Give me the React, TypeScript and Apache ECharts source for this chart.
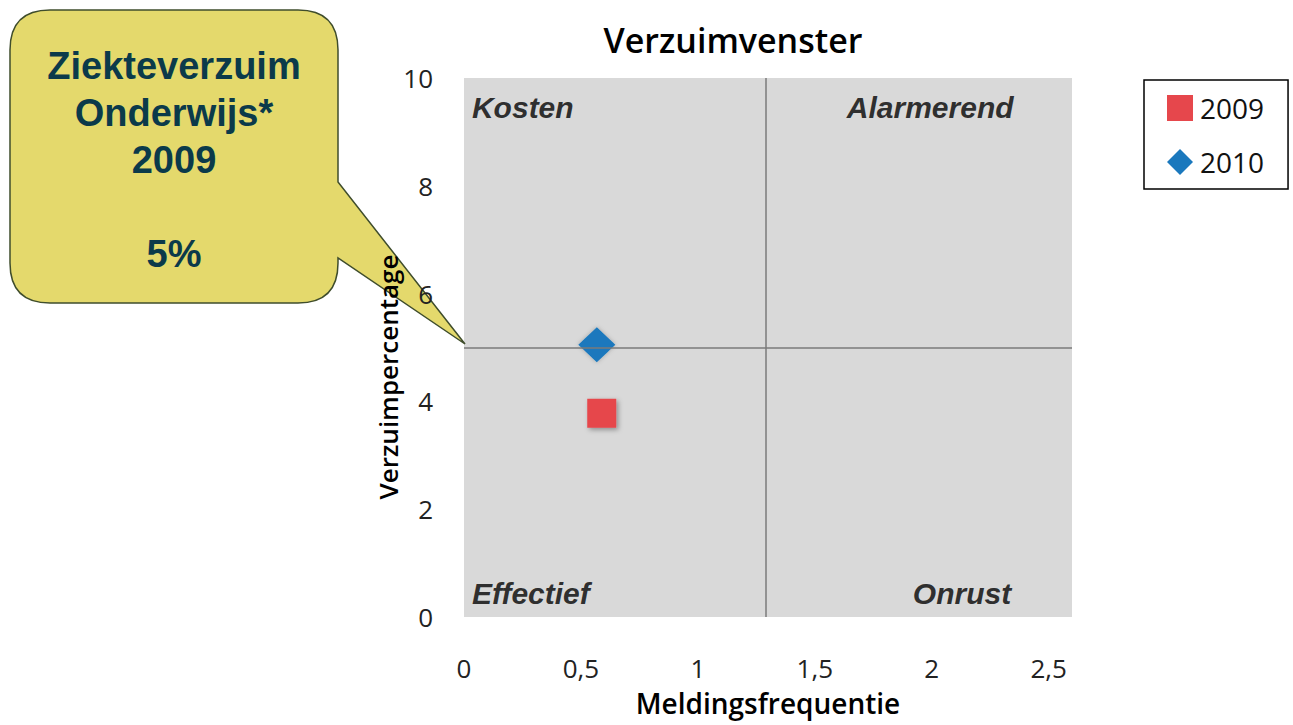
import React, { useEffect, useRef } from "react";
import * as echarts from "echarts";

const title = "Verzuimvenster";
const xName = "Meldingsfrequentie";
const yName = "Verzuimpercentage";
const seriesNames = ["2009", "2010"];
const data2009 = [[0.589, 3.78]];
const data2010 = [[0.568, 5.05]];
const quadrantSplitX = 1.29;
const quadrantSplitY = 5;
const quadrantLabels = [
  { name: "Kosten", value: [0.034, 9.45], align: "left" },
  { name: "Alarmerend", value: [2.35, 9.45], align: "right" },
  { name: "Effectief", value: [0.034, 0.43], align: "left" },
  { name: "Onrust", value: [2.34, 0.43], align: "right" },
];
const calloutLines = ["Ziekteverzuim", "Onderwijs*", "2009", "", "5%"];

const calloutPath =
  "M50,10 L298,10 Q338,10 338,50 L338,182 L465,344 L338,258 L338,263 Q338,303 298,303 L50,303 Q10,303 10,263 L10,50 Q10,10 50,10 Z";

let registered = false;

export default function App() {
  const ref = useRef<HTMLDivElement>(null);
  useEffect(() => {
    document.body.style.margin = "0";
    if (!registered) {
      echarts.graphic.registerShape("callout", echarts.graphic.extendPath(calloutPath, {}));
      registered = true;
    }
    const chart = echarts.init(ref.current!, null, { renderer: "svg" });
    const font = "'Open Sans', sans-serif";
    chart.setOption({
      animation: false,
      backgroundColor: "#ffffff",
      title: {
        text: title,
        left: 728,
        top: 18,
        textAlign: "center",
        textStyle: { fontFamily: font, fontSize: 34, fontWeight: 600, color: "#000" },
      },
      legend: {
        data: seriesNames,
        orient: "vertical",
        left: 1144,
        top: 80,
        borderColor: "#000",
        borderWidth: 1.5,
        padding: [14, 24, 13, 23],
        itemWidth: 26,
        itemHeight: 26,
        itemGap: 26,
        textStyle: { fontFamily: font, fontSize: 28, color: "#111", padding: [0, 0, 0, 2] },
      },
      grid: {
        left: 464,
        right: 221,
        top: 78,
        bottom: 108,
        show: true,
        backgroundColor: "#d9d9d9",
        borderWidth: 0,
      },
      xAxis: {
        type: "value",
        min: 0,
        max: 2.6,
        interval: 0.5,
        name: xName,
        nameLocation: "middle",
        nameGap: 72,
        nameTextStyle: { fontFamily: font, fontSize: 28, fontWeight: 600, color: "#000" },
        axisLine: { show: false },
        axisTick: { show: false },
        splitLine: { show: false },
        axisLabel: {
          margin: 38,
          fontFamily: font,
          fontSize: 26,
          color: "#222",
          showMaxLabel: false,
          formatter: (v: number) => (v > 2.55 ? "" : String(v).replace(".", ",")),
        },
      },
      yAxis: {
        type: "value",
        min: 0,
        max: 10,
        interval: 2,
        z: 5,
        axisLine: { show: false },
        axisTick: { show: false },
        splitLine: { show: false },
        axisLabel: { margin: 31, fontFamily: font, fontSize: 26, color: "#222" },
      },
      graphic: [
        {
          type: "callout",
          x: 0,
          y: 0,
          z: 1,
          style: { fill: "#e4d96c", stroke: "#3f4d2c", lineWidth: 1.5 },
        },
        {
          type: "text",
          x: 174,
          y: 42,
          z: 11,
          style: {
            text: calloutLines.join("\n"),
            fill: "#0b3a4a",
            font: "bold 38px 'Liberation Sans', Arial, sans-serif",
            lineHeight: 47,
            align: "center",
            verticalAlign: "top",
          },
        },
        {
          type: "text",
          x: 388,
          y: 377,
          rotation: Math.PI / 2,
          z: 12,
          style: {
            text: yName,
            fill: "#000",
            font: "600 26px 'Open Sans', sans-serif",
            align: "center",
            verticalAlign: "middle",
          },
        },
      ],
      series: [
        {
          name: "quadrants",
          type: "scatter",
          symbolSize: 0,
          silent: true,
          data: quadrantLabels.map((q) => ({
            name: q.name,
            value: q.value,
            label: {
              show: true,
              position: "inside",
              align: q.align,
              verticalAlign: "middle",
              formatter: "{b}",
              fontFamily: "'Liberation Sans', Arial, sans-serif",
              fontStyle: "italic",
              fontWeight: "bold",
              fontSize: 30,
              color: "#000",
            },
          })),
          markLine: {
            silent: true,
            symbol: "none",
            label: { show: false },
            lineStyle: { color: "#7a7a7a", width: 1.5, type: "solid" },
            data: [{ xAxis: quadrantSplitX }, { yAxis: quadrantSplitY }],
          },
        },
        {
          name: seriesNames[0],
          type: "scatter",
          symbol: "rect",
          symbolSize: 29,
          data: data2009,
          itemStyle: {
            opacity: 1,
            color: "#e6474c",
            shadowColor: "rgba(0,0,0,0.35)",
            shadowBlur: 5,
            shadowOffsetX: 2,
            shadowOffsetY: 2,
          },
        },
        {
          name: seriesNames[1],
          type: "scatter",
          symbol: "diamond",
          symbolSize: [37, 35],
          data: data2010,
          itemStyle: {
            opacity: 1,
            color: "#1a78bd",
            shadowColor: "rgba(0,0,0,0.25)",
            shadowBlur: 4,
          },
        },
      ],
    });
    return () => chart.dispose();
  }, []);
  return <div ref={ref} style={{ width: 1293, height: 725 }} />;
}
